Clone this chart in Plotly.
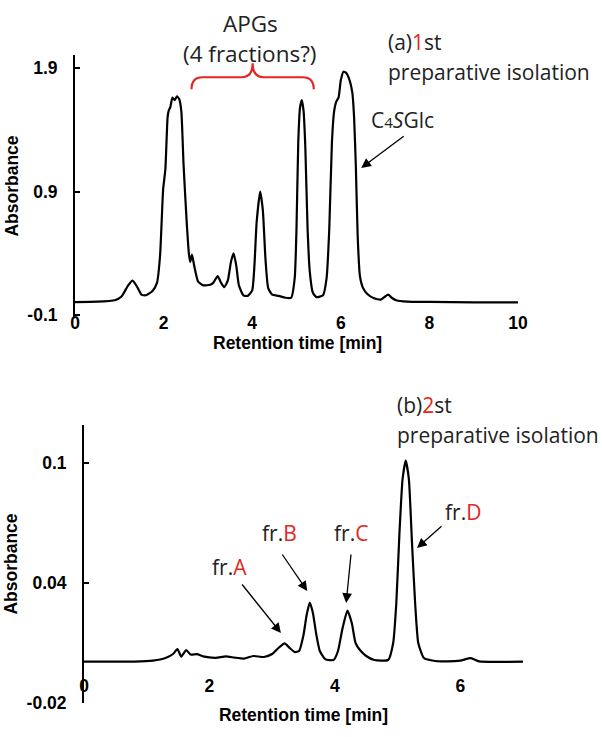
import plotly.graph_objects as go

# ---------------- data ----------------
top_time = [0.0, 0.5, 0.9, 1.05, 1.2, 1.3, 1.4, 1.5, 1.6, 1.75, 1.85, 1.92, 1.99, 2.04, 2.09,
            2.12, 2.15, 2.2, 2.25, 2.3, 2.35, 2.4, 2.45, 2.52, 2.57, 2.6, 2.64, 2.69, 2.78,
            2.9, 3.05, 3.12, 3.22, 3.3, 3.37, 3.45, 3.52, 3.58, 3.64, 3.7, 3.8, 3.9, 4.0,
            4.05, 4.1, 4.18, 4.24, 4.3, 4.36, 4.45, 4.6, 4.75, 4.88, 4.96, 5.0, 5.04, 5.08,
            5.12, 5.16, 5.2, 5.25, 5.3, 5.37, 5.45, 5.6, 5.68, 5.74, 5.8, 5.85, 5.9, 5.95,
            6.0, 6.06, 6.12, 6.18, 6.26, 6.3, 6.34, 6.38, 6.43, 6.5, 6.6, 6.75, 6.9, 7.0,
            7.07, 7.15, 7.25, 7.5, 8.0, 9.0, 10.0]
top_abs = [0.005, 0.008, 0.02, 0.05, 0.14, 0.178, 0.13, 0.065, 0.06, 0.095, 0.16, 0.38, 0.92,
           1.08, 1.5, 1.56, 1.58, 1.66, 1.64, 1.67, 1.65, 1.55, 1.12, 0.66, 0.40, 0.33, 0.39,
           0.30, 0.17, 0.14, 0.145, 0.16, 0.215, 0.16, 0.125, 0.18, 0.33, 0.40, 0.30, 0.14,
           0.06, 0.055, 0.10, 0.30, 0.65, 0.90, 0.75, 0.35, 0.12, 0.065, 0.055, 0.04, 0.04,
           0.20, 0.60, 1.30, 1.58, 1.64, 1.55, 1.25, 0.60, 0.25, 0.08, 0.045, 0.06, 0.20,
           0.60, 1.30, 1.55, 1.63, 1.66, 1.80, 1.87, 1.86, 1.82, 1.70, 1.50, 1.10, 0.55,
           0.22, 0.12, 0.07, 0.035, 0.025, 0.05, 0.065, 0.04, 0.02, 0.008, 0.006, 0.003, 0.003]

bot_time = [0.0, 0.8, 1.1, 1.3, 1.42, 1.49, 1.55, 1.63, 1.7, 1.8, 1.9, 2.1, 2.26, 2.4, 2.55,
            2.7, 2.87, 3.0, 3.1, 3.2, 3.28, 3.36, 3.43, 3.5, 3.55, 3.6, 3.65, 3.7, 3.76, 3.85,
            3.98, 4.05, 4.12, 4.2, 4.27, 4.33, 4.4, 4.5, 4.63, 4.85, 4.93, 4.98, 5.03, 5.08,
            5.13, 5.18, 5.23, 5.28, 5.33, 5.42, 5.6, 5.8, 6.0, 6.17, 6.3, 7.0]
bot_abs = [0.0007, 0.0007, 0.0012, 0.0025, 0.0045, 0.007, 0.0032, 0.0065, 0.0042, 0.0044,
           0.0033, 0.0026, 0.0033, 0.0027, 0.0022, 0.0035, 0.003, 0.0045, 0.0075, 0.0098,
           0.0075, 0.0055, 0.006, 0.014, 0.024, 0.0302, 0.025, 0.015, 0.006, 0.0018, 0.0015,
           0.006, 0.017, 0.0262, 0.02, 0.01, 0.0065, 0.0035, 0.0015, 0.0015, 0.01, 0.03,
           0.065, 0.092, 0.1012, 0.092, 0.06, 0.03, 0.01, 0.0025, 0.001, 0.0008, 0.0012,
           0.0024, 0.0008, 0.0007]

top_xticks = [0, 2, 4, 6, 8, 10]
top_yticks = [-0.1, 0.9, 1.9]
top_yticktext = ["-0.1", "0.9", "1.9"]
bot_xticks = [0, 2, 4, 6]
bot_yticks = [-0.02, 0.04, 0.1]
bot_yticktext = ["-0.02", "0.04", "0.1"]

# annotation targets (data coords)
c4sglc_target = (6.46, 1.09)
frac_labels = ["A", "B", "C", "D"]
frac_targets = [(3.14, 0.015), (3.56, 0.036), (4.18, 0.030), (5.31, 0.0575)]
brace_x = (2.63, 4.01, 5.39)
brace_y = (1.727, 1.825, 1.938)

# ---------------- layout helpers ----------------
W, H = 602, 737
RED = "#e52521"
TXT = "#222222"


def px(x):
    return x / W


def py(y):
    return 1 - y / H


axis_font = dict(family="Arial, Liberation Sans, sans-serif", size=17.5, color="black", weight="bold")
ann_font = dict(family="Open Sans, sans-serif", size=21, color=TXT)

fig = go.Figure()
line_style = dict(color="black", width=2.2, shape="spline", smoothing=0.5)
fig.add_trace(go.Scatter(x=top_time, y=top_abs, xaxis="x", yaxis="y", mode="lines",
                         line=line_style, showlegend=False, hoverinfo="skip"))
fig.add_trace(go.Scatter(x=bot_time, y=bot_abs, xaxis="x2", yaxis="y2", mode="lines",
                         line=line_style, showlegend=False, hoverinfo="skip"))

common_x = dict(showline=False, ticks="", showgrid=False, zeroline=False,
                tickfont=axis_font, tickmode="array")
common_y = dict(showline=True, linecolor="black", linewidth=2, ticks="inside", ticklen=5,
                tickwidth=2, tickcolor="black", showgrid=False, zeroline=False,
                tickfont=axis_font, tickmode="array", ticklabelstandoff=12)

fig.update_layout(
    width=W, height=H,
    margin=dict(l=0, r=0, t=0, b=0),
    paper_bgcolor="white", plot_bgcolor="white",
    showlegend=False,
    xaxis=dict(domain=[px(75), px(518)], range=[0, 10], anchor="free", position=py(310),
               tickvals=top_xticks, ticktext=[str(v) for v in top_xticks],
               automargin=False, **common_x),
    yaxis=dict(domain=[py(317), py(55)], range=[-0.116, 2.005], anchor="x",
               tickvals=top_yticks, ticktext=top_yticktext,
               title=dict(text="Absorbance", font=axis_font, standoff=4),
               automargin=False, **common_y),
    xaxis2=dict(domain=[px(84), px(523)], range=[0, 7], anchor="free", position=py(673),
                tickvals=bot_xticks, ticktext=[str(v) for v in bot_xticks],
                title=dict(text="Retention time [min]", font=axis_font, standoff=14),
                automargin=False, **common_x),
    yaxis2=dict(domain=[py(703), py(425)], range=[-0.02, 0.119], anchor="x2",
                tickvals=bot_yticks, ticktext=bot_yticktext,
                title=dict(text="Absorbance", font=axis_font, standoff=4),
                automargin=False, **common_y),
)

annotations = []


def text_ann(text, x, y, xanchor="left", font=None):
    annotations.append(dict(text=text, x=px(x), y=py(y), xref="paper", yref="paper",
                            xanchor=xanchor, yanchor="middle", showarrow=False,
                            font=font or ann_font))


def arrow_ann(xref, yref, target, ax, ay):
    annotations.append(dict(text="", x=target[0], y=target[1], xref=xref, yref=yref,
                            showarrow=True, ax=ax, ay=ay, arrowhead=2, arrowsize=1.5,
                            arrowwidth=1.3, arrowcolor="black", standoff=0))


red = lambda s: f"<span style='color:{RED}'>{s}</span>"
big_font = dict(ann_font, size=22.5)

# top-panel x-axis title
text_ann("Retention time [min]", 297, 343, "center", axis_font)

text_ann("APGs", 250, 24, "center", big_font)
text_ann("(4 fractions?)", 250, 53, "center", big_font)
text_ann("(a)" + red("1") + "st", 386, 42)
text_ann("preparative isolation", 386, 72)
text_ann("C<span style='font-size:15px'>4</span><i>S</i>Glc", 369, 120)
arrow_ann("x", "y", c4sglc_target, 44, -33)

text_ann("(b)" + red("2") + "st", 395, 405)
text_ann("preparative isolation", 395, 435)

frac_text_pos = [(210, 567), (260, 533), (332, 533), (443, 512)]
frac_arrow_off = [(-40, -50), (-26, -38), (5, -50), (26, -23)]
for lab, tpos, tgt, off in zip(frac_labels, frac_text_pos, frac_targets, frac_arrow_off):
    text_ann("fr." + red(lab), tpos[0], tpos[1])
    arrow_ann("x2", "y2", tgt, off[0], off[1])

fig.update_layout(annotations=annotations)

# red curly brace above APG peaks
x0, xc, x1 = brace_x
ye, ym, yc = brace_y
d = 0.25
path = (f"M {x0},{ye} Q {x0},{ym} {x0 + d},{ym} L {xc - d},{ym} Q {xc},{ym} {xc},{yc} "
        f"Q {xc},{ym} {xc + d},{ym} L {x1 - d},{ym} Q {x1},{ym} {x1},{ye}")
fig.add_shape(type="path", path=path, xref="x", yref="y",
              line=dict(color=RED, width=2.2))

fig.write_html("out.html")
